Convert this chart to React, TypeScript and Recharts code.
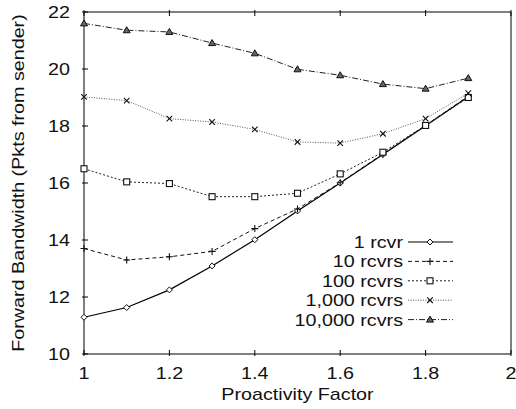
import React from 'react';
import { LineChart, Line, XAxis, YAxis, Legend, Label } from 'recharts';

// Proactivity factor sampled at 0.1 steps
const factors = [1, 1.1, 1.2, 1.3, 1.4, 1.5, 1.6, 1.7, 1.8, 1.9];

const rcvr1 = [11.29, 11.63, 12.25, 13.09, 14.01, 15.02, 16.0, 17.0, 18.01, 19.03];
const rcvrs10 = [13.7, 13.3, 13.41, 13.6, 14.4, 15.09, 16.01, 17.02, 18.02, 19.05];
const rcvrs100 = [16.5, 16.04, 15.98, 15.52, 15.52, 15.64, 16.32, 17.08, 18.02, 19.0];
const rcvrs1000 = [19.02, 18.89, 18.26, 18.14, 17.88, 17.44, 17.4, 17.73, 18.26, 19.15];
const rcvrs10000 = [21.6, 21.36, 21.3, 20.91, 20.55, 19.99, 19.78, 19.47, 19.31, 19.68];

const xTicks = [1, 1.2, 1.4, 1.6, 1.8, 2];
const yTicks = [10, 12, 14, 16, 18, 20, 22];

const FONT = '"Liberation Sans", Arial, Helvetica, sans-serif';
const FS = 17;
const SX = 1.16; // the source text is slightly stretched along its baseline
const TICK = 6;

type Kind = 'diamond' | 'plus' | 'square' | 'cross' | 'triangle';

const SERIES: { key: string; name: string; kind: Kind; stroke: string; dash?: string; width: number }[] = [
  { key: 'r1', name: '1 rcvr', kind: 'diamond', stroke: '#000', width: 1.2 },
  { key: 'r10', name: '10 rcvrs', kind: 'plus', stroke: '#111', dash: '4 3', width: 1 },
  { key: 'r100', name: '100 rcvrs', kind: 'square', stroke: '#222', dash: '2 2', width: 1 },
  { key: 'r1k', name: '1,000 rcvrs', kind: 'cross', stroke: '#555', dash: '1 1.5', width: 1 },
  { key: 'r10k', name: '10,000 rcvrs', kind: 'triangle', stroke: '#222', dash: '6 2 1 2', width: 1 },
];

const data = factors.map((x, i) => ({
  x,
  r1: rcvr1[i],
  r10: rcvrs10[i],
  r100: rcvrs100[i],
  r1k: rcvrs1000[i],
  r10k: rcvrs10000[i],
}));

function Marker({ kind, cx, cy }: { kind: Kind; cx: number; cy: number }) {
  const s = '#111';
  switch (kind) {
    case 'diamond':
      return <polygon points={`${cx},${cy - 3} ${cx + 3},${cy} ${cx},${cy + 3} ${cx - 3},${cy}`} fill="#fff" stroke={s} strokeWidth={1} />;
    case 'plus':
      return <path d={`M${cx - 3.5},${cy}H${cx + 3.5}M${cx},${cy - 3.5}V${cy + 3.5}`} stroke={s} strokeWidth={1.1} />;
    case 'square':
      return <rect x={cx - 3} y={cy - 3} width={6} height={6} fill="#fff" stroke={s} strokeWidth={1.1} />;
    case 'cross':
      return <path d={`M${cx - 2.8},${cy - 2.8}L${cx + 2.8},${cy + 2.8}M${cx - 2.8},${cy + 2.8}L${cx + 2.8},${cy - 2.8}`} stroke={s} strokeWidth={1.1} />;
    default:
      return <polygon points={`${cx},${cy - 3.5} ${cx + 3.5},${cy + 2.5} ${cx - 3.5},${cy + 2.5}`} fill="#666" stroke={s} strokeWidth={1} />;
  }
}

const dotFor = (kind: Kind) => (p: any) => (
  <g key={`${kind}-${p.index}`}>
    <Marker kind={kind} cx={p.cx} cy={p.cy} />
  </g>
);

const LeftTick = ({ x, y, payload }: any) => (
  <g>
    <line x1={x} x2={x + TICK} y1={y} y2={y} stroke="#000" />
    <text transform={`translate(${x - 12},${y + 6}) scale(${SX},1)`} textAnchor="end" fontFamily={FONT} fontSize={FS} fill="#111">
      {payload.value}
    </text>
  </g>
);

const RightTick = ({ x, y }: any) => <line x1={x - TICK} x2={x} y1={y} y2={y} stroke="#000" />;

const BottomTick = ({ x, y, payload }: any) => (
  <g>
    <line x1={x} x2={x} y1={y - TICK} y2={y} stroke="#000" />
    <text transform={`translate(${x},${y + 23}) scale(${SX},1)`} textAnchor="middle" fontFamily={FONT} fontSize={FS} fill="#111">
      {payload.value}
    </text>
  </g>
);

const TopTick = ({ x, y }: any) => <line x1={x} x2={x} y1={y} y2={y + TICK} stroke="#000" />;

const LegendBox = () => (
  <svg width={200} height={110} style={{ display: 'block' }}>
    {SERIES.map((s, i) => {
      const cy = 14 + i * 19.4;
      return (
        <g key={s.key}>
          <text transform={`translate(123,${cy + 6}) scale(${SX},1)`} textAnchor="end" fontFamily={FONT} fontSize={FS} fill="#111">
            {s.name}
          </text>
          <line x1={128} x2={173} y1={cy} y2={cy} stroke={s.stroke} strokeWidth={s.width} strokeDasharray={s.dash} />
          <Marker kind={s.kind} cx={150} cy={cy} />
        </g>
      );
    })}
  </svg>
);

export default function App() {
  return (
    <div style={{ position: 'absolute', left: 0, top: 0, background: '#fff' }}>
      <LineChart width={516} height={409} data={data} margin={{ top: 0, right: 0, bottom: 0, left: 0 }}>
        <XAxis
          dataKey="x"
          type="number"
          domain={[1, 2]}
          ticks={xTicks}
          height={55}
          tickSize={0}
          tickLine={false}
          axisLine={{ stroke: '#000' }}
          tick={<BottomTick />}
          interval={0}
        >
          <Label
            content={({ viewBox }: any) => (
              <text
                transform={`translate(${viewBox.x + viewBox.width / 2},${viewBox.y + 46}) scale(${SX},1)`}
                textAnchor="middle"
                fontFamily={FONT}
                fontSize={FS}
                fill="#111"
              >
                Proactivity Factor
              </text>
            )}
          />
        </XAxis>
        <XAxis
          xAxisId="top"
          orientation="top"
          dataKey="x"
          type="number"
          domain={[1, 2]}
          ticks={xTicks}
          height={12}
          tickSize={0}
          tickLine={false}
          axisLine={{ stroke: '#000' }}
          tick={<TopTick />}
          interval={0}
        />
        <YAxis
          type="number"
          domain={[10, 22]}
          ticks={yTicks}
          width={84}
          tickSize={0}
          tickLine={false}
          axisLine={{ stroke: '#000' }}
          tick={<LeftTick />}
          interval={0}
        >
          <Label
            content={({ viewBox }: any) => (
              <text
                transform={`translate(${viewBox.x + 24},${viewBox.y + viewBox.height / 2}) rotate(-90) scale(${SX},1)`}
                textAnchor="middle"
                fontFamily={FONT}
                fontSize={FS}
                fill="#111"
              >
                Forward Bandwidth (Pkts from sender)
              </text>
            )}
          />
        </YAxis>
        <YAxis
          yAxisId="right"
          orientation="right"
          type="number"
          domain={[10, 22]}
          ticks={yTicks}
          width={5}
          tickSize={0}
          tickLine={false}
          axisLine={{ stroke: '#000' }}
          tick={<RightTick />}
          interval={0}
        />
        {SERIES.map((s) => (
          <Line
            key={s.key}
            dataKey={s.key}
            name={s.name}
            stroke={s.stroke}
            strokeWidth={s.width}
            strokeDasharray={s.dash}
            dot={dotFor(s.kind)}
            activeDot={false}
            isAnimationActive={false}
          />
        ))}
        <Legend
          layout="horizontal"
          verticalAlign="middle"
          align="center"
          wrapperStyle={{ left: 280, top: 228, width: 200, height: 110 }}
          content={() => <LegendBox />}
        />
      </LineChart>
    </div>
  );
}
